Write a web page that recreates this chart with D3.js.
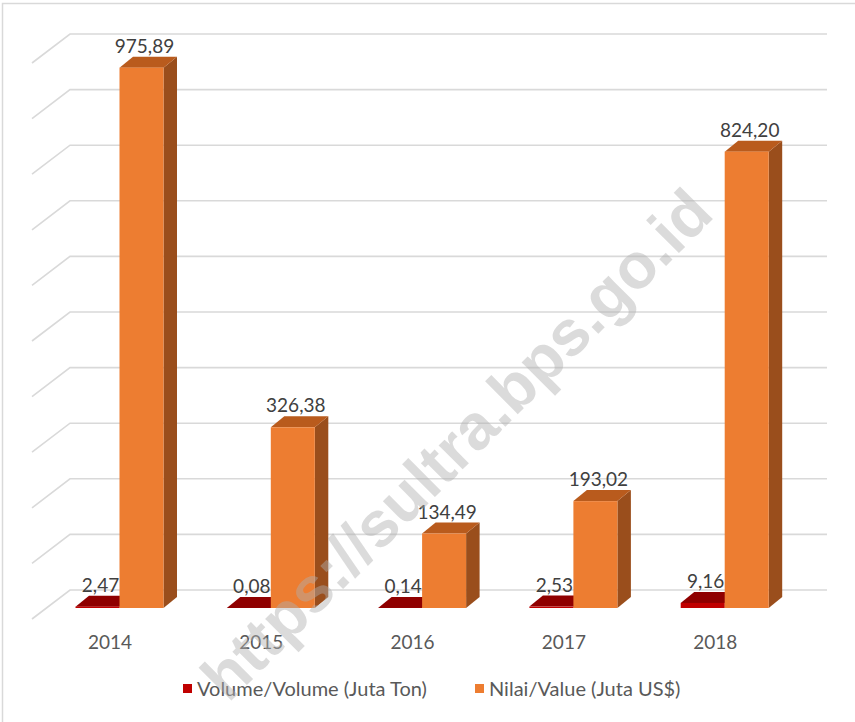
<!DOCTYPE html>
<html>
<head>
<meta charset="utf-8">
<script src="https://cdn.jsdelivr.net/npm/d3@7"></script>
<style>
  html, body { margin: 0; padding: 0; background: #fff; }
  svg { display: block; }
</style>
</head>
<body>
<svg id="chart" width="855" height="722"></svg>
<script>
// Export volume and value per year
const years = ["2014", "2015", "2016", "2017", "2018"];
const volume = [2.47, 0.08, 0.14, 2.53, 9.16];        // Juta Ton
const value = [975.89, 326.38, 134.49, 193.02, 824.20]; // Juta US$
const gridTicks = [0, 100, 200, 300, 400, 500, 600, 700, 800, 900, 1000];
const seriesNames = ["Volume/Volume (Juta Ton)", "Nilai/Value (Juta US$)"];

const fmt = v => d3.format(".2f")(v).replace(".", ",");

const svg = d3.select("#chart");
const FONT = "Lato, 'Open Sans', sans-serif";

// chart frame
svg.append("rect")
  .attr("x", 2.5).attr("y", 3.5).attr("width", 870).attr("height", 740)
  .attr("fill", "#fff").attr("stroke", "#d9d9d9").attr("stroke-width", 1.5);

// 3D projection: back wall and bar plane
const depth = { dx: -38, dy: 29 };   // side wall / floor depth
const barDepth = { dx: 13.5, dy: -11 };
const backLeft = 70, backRight = 827;

const yGrid = d3.scaleLinear().domain([0, 1000]).range([590, 34]);
const yBar = d3.scaleLinear().domain([0, 1000]).range([608, 54.3]);
const x = d3.scaleBand().domain(years).range([43.85, 800.35]);
const barW = 44;
const center = d => x(d) + x.bandwidth() / 2;

// gridlines on the back wall with their run down the side wall
const grid = svg.append("g")
  .attr("fill", "none").attr("stroke", "#d9d9d9").attr("stroke-width", 1.6);
gridTicks.forEach(t => {
  const y = yGrid(t);
  grid.append("polyline")
    .attr("points", [[backLeft + depth.dx, y + depth.dy], [backLeft, y], [backRight, y]].map(p => p.join(",")).join(" "));
});

// 3D bar: front, top and right faces
function bar3d(g, x0, v, colors) {
  const yb = yBar(0), yt = yBar(v);
  const { dx, dy } = barDepth;
  g.append("polygon") // right side
    .attr("points", [[x0 + barW, yb], [x0 + barW + dx, yb + dy], [x0 + barW + dx, yt + dy], [x0 + barW, yt]].map(p => p.join(",")).join(" "))
    .attr("fill", colors.side);
  g.append("polygon") // top
    .attr("points", [[x0, yt], [x0 + dx, yt + dy], [x0 + barW + dx, yt + dy], [x0 + barW, yt]].map(p => p.join(",")).join(" "))
    .attr("fill", colors.top);
  g.append("rect") // front
    .attr("x", x0).attr("y", yt).attr("width", barW).attr("height", Math.max(0, yb - yt))
    .attr("fill", colors.front);
}

const red = { front: "#c00000", top: "#8f0000", side: "#6e0000" };
const orange = { front: "#ed7d31", top: "#b95b1d", side: "#9a4e1c" };

const bars = svg.append("g");
years.forEach((yr, i) => {
  bar3d(bars, center(yr) - barW, volume[i], red);
  bar3d(bars, center(yr), value[i], orange);
});

// data labels
const labels = svg.append("g")
  .attr("font-family", FONT).attr("font-size", 19).attr("fill", "#404040")
  .attr("text-anchor", "middle");
years.forEach((yr, i) => {
  labels.append("text")
    .attr("x", center(yr) - barW / 2 + 3).attr("y", yBar(volume[i]) - 15)
    .text(fmt(volume[i]));
  labels.append("text")
    .attr("x", center(yr) + barW / 2 + 3).attr("y", yBar(value[i]) - 15)
    .text(fmt(value[i]));
});

// category labels along the floor
svg.append("g")
  .attr("font-family", FONT).attr("font-size", 19).attr("fill", "#595959")
  .attr("text-anchor", "middle")
  .selectAll("text").data(years).join("text")
  .attr("x", d => center(d) - 9.5).attr("y", 649)
  .text(d => d);

// legend
const legend = svg.append("g")
  .attr("font-family", FONT).attr("font-size", 20).attr("fill", "#595959");
const legendItems = [
  { name: seriesNames[0], color: red.front, x: 183 },
  { name: seriesNames[1], color: orange.front, x: 475 }
];
legendItems.forEach(it => {
  legend.append("rect").attr("x", it.x).attr("y", 684).attr("width", 9).attr("height", 9).attr("fill", it.color);
  legend.append("text").attr("x", it.x + 14).attr("y", 696).text(it.name);
});

// watermark
svg.append("text")
  .attr("transform", "translate(472,460) rotate(-45)")
  .attr("text-anchor", "middle")
  .attr("font-family", "'Liberation Sans', Arial, sans-serif")
  .attr("font-weight", "bold").attr("font-size", 64)
  .attr("fill", "#b0b0b0").attr("fill-opacity", 0.45)
  .text("https://sultra.bps.go.id");
</script>
</body>
</html>
